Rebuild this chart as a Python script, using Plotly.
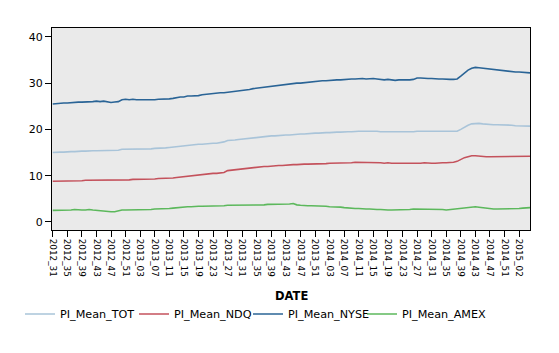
import plotly.graph_objects as go

# Week categories: 2012_31 .. 2015_05 (2014 labelled with 53 weeks)
weeks = ([f"2012_{w:02d}" for w in range(31, 53)] +
         [f"2013_{w:02d}" for w in range(1, 53)] +
         [f"2014_{w:02d}" for w in range(1, 54)] +
         [f"2015_{w:02d}" for w in range(1, 6)])
tick_labels = weeks[::4]
x_title = "DATE"

pi_mean_nyse = [
    25.5, 25.6, 25.6, 25.7, 25.7, 25.8, 25.8, 25.9, 25.9, 25.9,
    26.0, 26.0, 26.1, 26.0, 26.1, 25.9, 25.8, 25.9, 26.0, 26.4,
    26.5, 26.4, 26.5, 26.4, 26.4, 26.3, 26.4, 26.4, 26.4, 26.5,
    26.5, 26.6, 26.6, 26.7, 26.9, 27.0, 27.0, 27.2, 27.2, 27.2,
    27.3, 27.5, 27.6, 27.7, 27.8, 27.8, 27.9, 27.9, 28.0, 28.1,
    28.1, 28.2, 28.4, 28.5, 28.6, 28.8, 28.9, 29.0, 29.1, 29.3,
    29.4, 29.5, 29.6, 29.7, 29.8, 29.8, 29.9, 30.0, 30.0, 30.1,
    30.2, 30.3, 30.3, 30.4, 30.5, 30.5, 30.6, 30.6, 30.7, 30.7,
    30.8, 30.8, 30.9, 30.9, 31.0, 31.0, 30.9, 31.0, 31.0, 30.9,
    30.8, 30.7, 30.8, 30.7, 30.6, 30.7, 30.7, 30.6, 30.7, 30.8,
    31.1, 31.1, 31.0, 31.0, 31.0, 30.9, 30.9, 30.9, 30.8, 30.8,
    30.8, 30.9, 31.5, 32.2, 32.8, 33.2, 33.4, 33.3, 33.2, 33.1,
    33.0, 32.9, 32.8, 32.7, 32.7, 32.6, 32.5, 32.4, 32.4, 32.3, 32.2, 32.2]

pi_mean_tot = [
    15.0, 15.1, 15.1, 15.1, 15.2, 15.2, 15.2, 15.3, 15.3, 15.3,
    15.4, 15.4, 15.4, 15.4, 15.5, 15.4, 15.4, 15.4, 15.5, 15.7,
    15.7, 15.7, 15.8, 15.8, 15.8, 15.8, 15.8, 15.8, 15.9, 15.9,
    16.0, 16.0, 16.1, 16.2, 16.3, 16.4, 16.4, 16.5, 16.6, 16.7,
    16.8, 16.8, 16.9, 17.0, 17.0, 17.0, 17.1, 17.3, 17.6, 17.6,
    17.7, 17.8, 17.9, 17.9, 18.0, 18.1, 18.2, 18.3, 18.4, 18.5,
    18.6, 18.6, 18.7, 18.7, 18.8, 18.8, 18.9, 18.9, 19.0, 19.0,
    19.1, 19.1, 19.2, 19.2, 19.3, 19.3, 19.3, 19.4, 19.4, 19.4,
    19.5, 19.5, 19.5, 19.6, 19.6, 19.6, 19.6, 19.7, 19.7, 19.6,
    19.5, 19.5, 19.5, 19.4, 19.4, 19.5, 19.5, 19.5, 19.5, 19.5,
    19.6, 19.6, 19.6, 19.5, 19.5, 19.5, 19.5, 19.5, 19.5, 19.5,
    19.5, 19.6, 20.0, 20.5, 20.9, 21.2, 21.3, 21.3, 21.2, 21.1,
    21.1, 21.0, 21.0, 21.0, 20.9, 20.9, 20.9, 20.8, 20.8, 20.8, 20.7, 20.7]

pi_mean_ndq = [
    8.8, 8.8, 8.8, 8.8, 8.9, 8.9, 8.9, 8.9, 8.9, 9.0,
    9.0, 9.0, 9.0, 9.0, 9.0, 9.0, 9.0, 9.0, 9.0, 9.1,
    9.1, 9.1, 9.2, 9.2, 9.2, 9.3, 9.3, 9.3, 9.3, 9.4,
    9.4, 9.4, 9.5, 9.5, 9.6, 9.7, 9.7, 9.8, 9.9, 10.0,
    10.1, 10.2, 10.3, 10.4, 10.5, 10.5, 10.6, 10.7, 11.1, 11.2,
    11.3, 11.4, 11.5, 11.6, 11.6, 11.7, 11.8, 11.9, 12.0, 12.0,
    12.1, 12.1, 12.2, 12.2, 12.3, 12.3, 12.4, 12.4, 12.5, 12.5,
    12.5, 12.5, 12.6, 12.6, 12.6, 12.6, 12.7, 12.7, 12.7, 12.8,
    12.8, 12.8, 12.8, 12.9, 12.9, 12.9, 12.9, 12.9, 12.8, 12.8,
    12.8, 12.7, 12.8, 12.7, 12.7, 12.7, 12.7, 12.6, 12.7, 12.7,
    12.7, 12.7, 12.8, 12.7, 12.7, 12.7, 12.8, 12.8, 12.8, 12.8,
    12.9, 13.1, 13.5, 13.9, 14.1, 14.3, 14.3, 14.2, 14.2, 14.1,
    14.1, 14.1, 14.1, 14.1, 14.1, 14.1, 14.1, 14.2, 14.1, 14.1, 14.1, 14.2]

pi_mean_amex = [
    2.5, 2.5, 2.6, 2.6, 2.6, 2.6, 2.7, 2.6, 2.6, 2.6,
    2.7, 2.6, 2.5, 2.4, 2.3, 2.3, 2.2, 2.2, 2.4, 2.6,
    2.6, 2.6, 2.6, 2.6, 2.7, 2.7, 2.7, 2.7, 2.8, 2.8,
    2.8, 2.8, 2.9, 3.0, 3.1, 3.2, 3.2, 3.3, 3.3, 3.4,
    3.4, 3.4, 3.4, 3.5, 3.5, 3.5, 3.5, 3.5, 3.6, 3.6,
    3.6, 3.6, 3.6, 3.7, 3.7, 3.7, 3.7, 3.7, 3.7, 3.8,
    3.8, 3.8, 3.8, 3.8, 3.9, 3.9, 4.0, 3.7, 3.6, 3.5,
    3.5, 3.5, 3.5, 3.5, 3.4, 3.4, 3.3, 3.3, 3.2, 3.2,
    3.1, 3.0, 3.0, 2.9, 2.9, 2.8, 2.8, 2.8, 2.7, 2.7,
    2.7, 2.6, 2.6, 2.6, 2.6, 2.7, 2.7, 2.7, 2.7, 2.8,
    2.8, 2.8, 2.8, 2.8, 2.7, 2.7, 2.7, 2.7, 2.6, 2.7,
    2.7, 2.8, 2.9, 3.0, 3.1, 3.2, 3.3, 3.2, 3.1, 2.9,
    2.8, 2.8, 2.8, 2.8, 2.8, 2.8, 2.9, 2.9, 2.9, 3.0, 3.0, 3.1]

series = [
    ("PI_Mean_TOT", pi_mean_tot, "#a9c4d9"),
    ("PI_Mean_NDQ", pi_mean_ndq, "#c4525c"),
    ("PI_Mean_NYSE", pi_mean_nyse, "#2a6496"),
    ("PI_Mean_AMEX", pi_mean_amex, "#5cb85c"),
]

font_family = "DejaVu Sans, Verdana, sans-serif"

fig = go.Figure()
for k, (name, vals, color) in enumerate(series):
    fig.add_trace(go.Scatter(x=weeks, y=vals, mode="lines", name=name,
                             legendwidth=69 if k < 3 else 92,
                             line=dict(color=color, width=1.6)))

fig.update_layout(
    width=559, height=353,
    margin=dict(l=52, r=29, t=28, b=123),
    paper_bgcolor="white",
    plot_bgcolor="#eaeaea",
    font=dict(family=font_family, color="black", size=11),
    showlegend=True,
    legend=dict(orientation="h", xref="container", yref="container",
                x=20 / 559, xanchor="left", y=1 - 314 / 353, yanchor="middle",
                font=dict(size=11.2, color="black"), itemwidth=30,
                entrywidthmode="pixels",
                tracegroupgap=0, bgcolor="rgba(0,0,0,0)"),
    annotations=[dict(text=f"<b>{x_title}</b>", xref="paper", yref="paper",
                      x=0.5, y=-66 / 202, xanchor="center", yanchor="middle",
                      showarrow=False, font=dict(size=11.5, color="black"))],
)

fig.update_xaxes(
    type="category", range=[-0.2, 131], automargin=False,
    tickmode="array", tickvals=tick_labels, ticktext=tick_labels,
    tickangle=90, ticks="outside", ticklen=6, tickcolor="black",
    tickfont=dict(size=8.8, family=font_family),
    showgrid=False, zeroline=False,
    showline=True, linecolor="black", linewidth=1, mirror=True,
)
fig.update_yaxes(
    range=[-1.73, 41.9], tickvals=[0, 10, 20, 30, 40], automargin=False,
    ticks="outside", ticklen=6, tickcolor="black",
    tickfont=dict(size=11, family=font_family),
    showgrid=False, zeroline=False,
    showline=True, linecolor="black", linewidth=1, mirror=True,
)

fig.write_html("out.html")
